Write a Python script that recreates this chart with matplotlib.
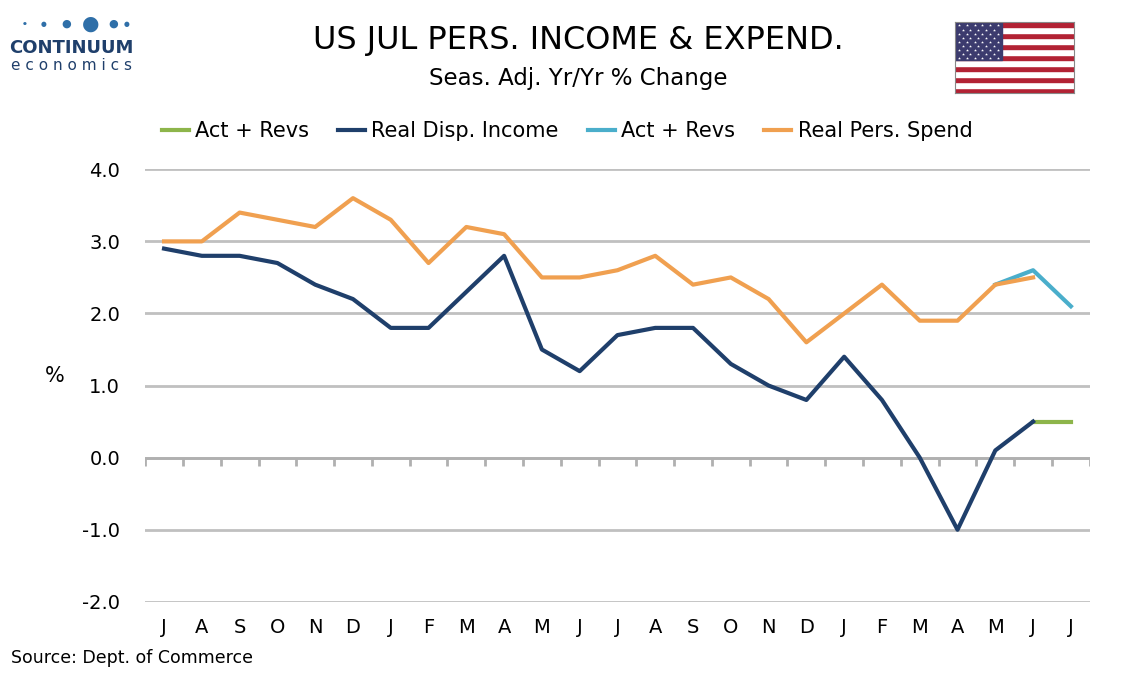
import numpy as np
import matplotlib.pyplot as plt
from matplotlib.patches import Rectangle

months = ['J', 'A', 'S', 'O', 'N', 'D', 'J', 'F', 'M', 'A', 'M', 'J',
          'J', 'A', 'S', 'O', 'N', 'D', 'J', 'F', 'M', 'A', 'M', 'J', 'J']
income = [2.9, 2.8, 2.8, 2.7, 2.4, 2.2, 1.8, 1.8, 2.3, 2.8, 1.5, 1.2,
          1.7, 1.8, 1.8, 1.3, 1.0, 0.8, 1.4, 0.8, 0.0, -1.0, 0.1, 0.5]
income_rev = [0.5, 0.5]          # last two months (J, J)
spend = [3.0, 3.0, 3.4, 3.3, 3.2, 3.6, 3.3, 2.7, 3.2, 3.1, 2.5, 2.5,
         2.6, 2.8, 2.4, 2.5, 2.2, 1.6, 2.0, 2.4, 1.9, 1.9, 2.4, 2.5]
spend_rev = [2.4, 2.6, 2.1]      # last three months (M, J, J)

DARK = '#1f3f6b'
ORANGE = '#f0a050'
GREEN = '#8db54a'
LBLUE = '#4aaecb'

plt.rcParams['font.family'] = ['Verdana', 'DejaVu Sans']
fig = plt.figure(figsize=(11.34, 6.8), dpi=100)
ax = fig.add_axes([0.128, 0.115, 0.833, 0.636])

x = np.arange(len(months))
ax.plot(x[-2:], income_rev, color=GREEN, lw=3, label='Act + Revs', clip_on=False)
ax.plot(x[:len(income)], income, color=DARK, lw=3, label='Real Disp. Income', clip_on=False)
ax.plot(x[-3:], spend_rev, color=LBLUE, lw=3, label='Act + Revs', clip_on=False)
ax.plot(x[:len(spend)], spend, color=ORANGE, lw=3, label='Real Pers. Spend', clip_on=False)

ax.set_xlim(-0.5, len(months) - 0.5)
ax.set_ylim(-2, 4)
ax.set_yticks(np.arange(-2, 4.1, 1))
ax.set_yticklabels([f'{v:.1f}' for v in np.arange(-2, 4.1, 1)], fontsize=14)
ax.yaxis.grid(True, color='#c0c0c0', lw=2)
ax.set_axisbelow(True)
ax.tick_params(axis='y', length=0, pad=18)
ax.set_xticks(x)
ax.set_xticklabels(months, fontsize=14)
ax.tick_params(axis='x', length=0, pad=12)
for s in ax.spines.values():
    s.set_visible(False)
ax.axhline(0, color='#b0b0b0', lw=2, zorder=1)
ax.vlines(np.arange(-0.5, len(months)), -0.12, 0, color='#b0b0b0', lw=2, zorder=1)
ax.set_ylabel('%', fontsize=15, rotation=0, labelpad=20)

fig.legend(loc='center', bbox_to_anchor=(0.5, 0.807), ncol=4, frameon=False,
           fontsize=15, handlelength=1.3, columnspacing=1.4, handletextpad=0.3)

fig.text(0.51, 0.94, 'US JUL PERS. INCOME & EXPEND.', ha='center', va='center', fontsize=23)
fig.text(0.51, 0.885, 'Seas. Adj. Yr/Yr % Change', ha='center', va='center', fontsize=16.5)
fig.text(0.01, 0.025, 'Source: Dept. of Commerce', fontsize=12.5)

# logo
fig.text(0.063, 0.93, 'CONTINUUM', ha='center', va='center', fontsize=13, color='#1f3f6b', weight='bold')
fig.text(0.063, 0.903, 'e c o n o m i c s', ha='center', va='center', fontsize=11, color='#1f3f6b')
for i, (px, sz) in enumerate(zip([0.022, 0.038, 0.058, 0.08, 0.1, 0.112], [2, 3, 5, 9, 5, 3])):
    fig.text(px, 0.965, '●', ha='center', va='center', fontsize=sz * 1.6, color='#2f6fa8')

# flag
fax = fig.add_axes([0.842, 0.863, 0.105, 0.105])
for i in range(13):
    fax.add_patch(Rectangle((0, i), 19, 1, color='#b22234' if i % 2 == 0 else 'white'))
fax.add_patch(Rectangle((0, 6), 7.6, 7, color='#3c3b6e'))
for r in range(9):
    for c in range(6 if r % 2 == 0 else 5):
        fax.plot(0.6 + c * 1.27 + (0.63 if r % 2 else 0), 6.4 + r * 0.74, marker='*',
                 color='white', ms=2.2, mec='none')
fax.set_xlim(0, 19)
fax.set_ylim(0, 13)
fax.set_xticks([])
fax.set_yticks([])
for s in fax.spines.values():
    s.set_color('#888888')

fig.savefig('out.png', dpi=100)
